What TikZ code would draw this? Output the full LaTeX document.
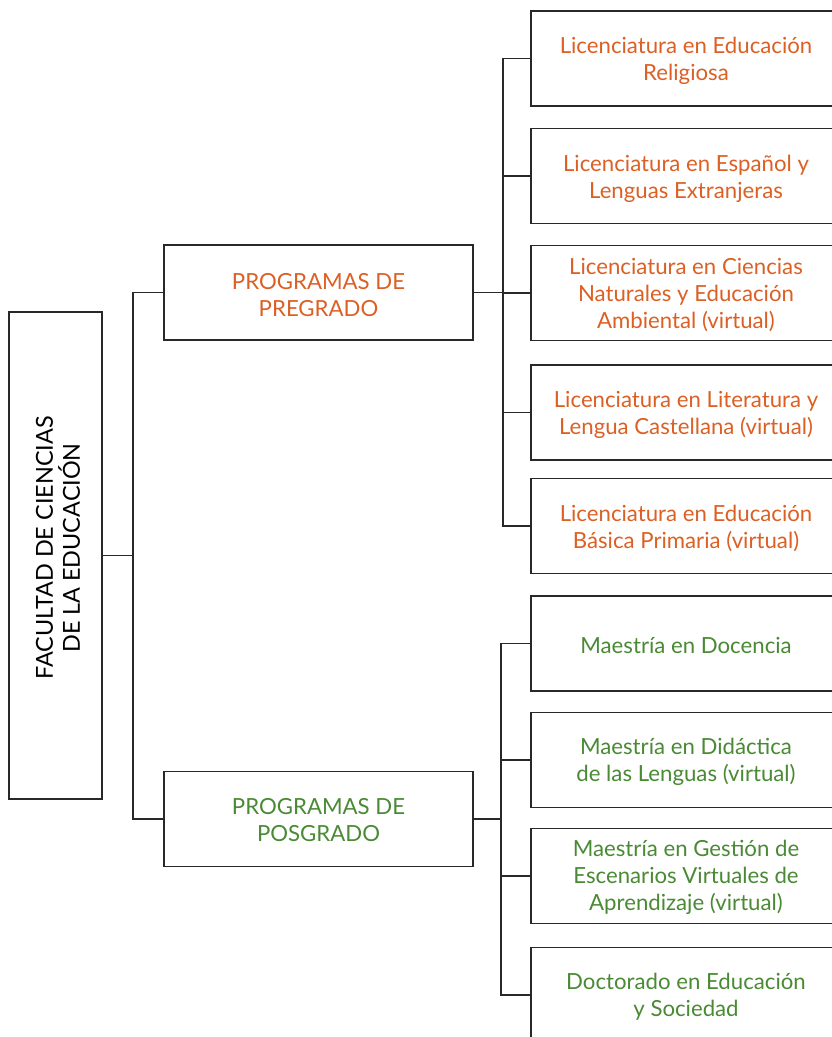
\documentclass[tikz,border=0pt]{standalone}
\usepackage{fontspec}
\setmainfont{Lato}
\definecolor{orng}{RGB}{220,96,36}
\definecolor{grn}{RGB}{74,138,52}
\definecolor{edge}{RGB}{40,40,40}
\begin{document}
\begin{tikzpicture}[x=1pt,y=-1pt,
  box/.style={draw=edge,line width=1.3pt,inner sep=0pt},
  txt/.style={inner sep=0pt,align=center,font=\fontsize{22.2}{27}\selectfont},
  facbox/.style={box,minimum width=93pt,minimum height=487pt},
  midbox/.style={box,minimum width=309pt,minimum height=95pt},
  leafbox/.style={box,minimum width=310pt,minimum height=95pt},
  undergrad/.style={txt,text=orng},
  postgrad/.style={txt,text=grn},
  conn/.style={draw=edge,line width=1.3pt}]
\useasboundingbox (0,0) rectangle (832,1037);
\clip (0,0) rectangle (832,1037);
\fill[white] (0,0) rectangle (832,1037);

\node[facbox] (fac) at (55.5,555.5) {};
\node[txt,rotate=90,font=\fontsize{23.4}{27}\selectfont] (factext) at (58,548) {FACULTAD DE CIENCIAS\\DE LA EDUCACIÓN};

\node[midbox] (pg) at (318.5,292.5) {};
\node[midbox] (ps) at (318.5,819) {};
\node[leafbox] (r1) at (686,58.5) {};
\node[leafbox] (r2) at (686,176) {};
\node[leafbox] (r3) at (686,293) {};
\node[leafbox] (r4) at (686,412.5) {};
\node[leafbox] (r5) at (686,526) {};
\node[leafbox] (r6) at (686,643.5) {};
\node[leafbox] (r7) at (686,760) {};
\node[leafbox] (r8) at (686,876) {};
\node[leafbox] (r9) at (686,995) {};

\node[undergrad] (pgt) at ([yshift=-2.5pt]pg.center) {PROGRAMAS DE\\PREGRADO};
\node[postgrad] (pst) at ([yshift=-1.5pt]ps.center) {PROGRAMAS DE\\POSGRADO};
\node[undergrad] (t1) at ([yshift=-2.5pt]r1.center) {Licenciatura en Educación\\Religiosa};
\node[undergrad] (t2) at ([yshift=-2.5pt]r2.center) {Licenciatura en Español y\\Lenguas Extranjeras};
\node[undergrad] (t3) at ([yshift=-2pt]r3.center) {Licenciatura en Ciencias\\Naturales y Educación\\Ambiental (virtual)};
\node[undergrad] (t4) at ([yshift=-2pt]r4.center) {Licenciatura en Literatura y\\Lengua Castellana (virtual)};
\node[undergrad] (t5) at ([yshift=-2pt]r5.center) {Licenciatura en Educación\\Básica Primaria (virtual)};
\node[postgrad] (t6) at ([yshift=-1.5pt]r6.center) {Maestría en Docencia};
\node[postgrad] (t7) at ([yshift=-1.5pt]r7.center) {Maestría en Didáctica\\de las Lenguas (virtual)};
\node[postgrad] (t8) at ([yshift=-1.5pt]r8.center) {Maestría en Gestión de\\Escenarios Virtuales de\\Aprendizaje (virtual)};
\node[postgrad] (t9) at ([yshift=-1.5pt]r9.center) {Doctorado en Educación\\y Sociedad};

\coordinate (j1) at (133,555.5);
\coordinate (j2) at (503,292.5);
\coordinate (j3) at (501,819);

\draw[conn] (fac.east) -- (j1);
\draw[conn] (j1) |- (pg.west);
\draw[conn] (j1) |- (ps.west);
\draw[conn] (pg.east) -- (j2);
\foreach \r in {r1,r2,r3,r4,r5} \draw[conn] (j2) |- (\r.west);
\draw[conn] (ps.east) -- (j3);
\foreach \r in {r6,r7,r8,r9} \draw[conn] (j3) |- (\r.west);
\end{tikzpicture}
\end{document}
